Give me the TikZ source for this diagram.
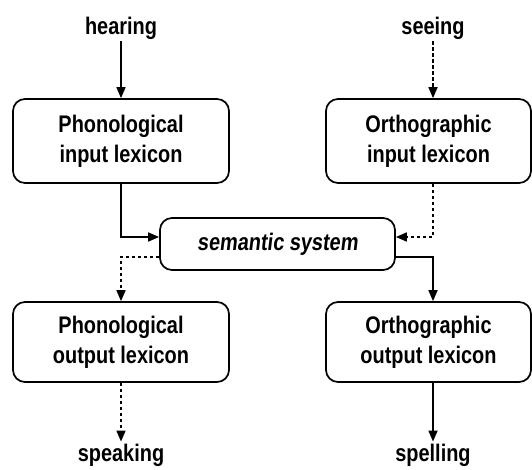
\documentclass[tikz,border=0pt]{standalone}
\usepackage{fontspec}
\setmainfont{Liberation Sans}[FakeStretch=0.83]
\newfontfamily\slantsans{Liberation Sans}[FakeStretch=0.83,
  UprightFont=*-Bold,FakeSlant=0.12]
\usetikzlibrary{arrows.meta,calc}
\begin{document}
\begin{tikzpicture}[x=1pt,y=-1pt,
  font=\fontsize{24}{30}\selectfont\bfseries,
  box/.style={draw,line width=1.7pt,rounded corners=12pt,align=center,inner sep=0pt},
  label/.style={inner sep=2pt},
  arr/.style={line width=1.7pt,-{Triangle[length=11pt,width=9pt]}},
  darr/.style={arr,dash pattern=on 3.5pt off 2.5pt}]
\useasboundingbox (0,0) rectangle (532,470);
% stimulus and response labels
\node[label] (hearing)  at (121,28)  {hearing};
\node[label] (seeing)   at (433,28)  {seeing};
\node[label] (speaking) at (121,455) {speaking};
\node[label] (spelling) at (433,455) {spelling};
% lexicons
\node[box,minimum width=216pt,minimum height=84pt] (pil) at (121,141)   {Phonological\\input lexicon};
\node[box,minimum width=205pt,minimum height=84pt] (oil) at (428.5,141) {Orthographic\\input lexicon};
\node[box,minimum width=216pt,minimum height=80pt] (pol) at (121,342)   {Phonological\\output lexicon};
\node[box,minimum width=205pt,minimum height=80pt] (ool) at (428.5,342) {Orthographic\\output lexicon};
\node[box,minimum width=235pt,minimum height=52pt,font=\fontsize{24}{30}\slantsans] (sem) at (277.5,244) {semantic system};
% routes
\draw[arr]  (hearing.south) -- (pil.north);
\draw[darr] (seeing.south) -- (seeing.south |- oil.north);
\draw[arr]  (pil.south) |- ([yshift=7pt]sem.west);
\draw[darr] (oil.south -| seeing) |- ([yshift=7pt]sem.east);
\draw[darr] ([yshift=-13pt]sem.west) -| (pol.north);
\draw[arr]  ([yshift=-13pt]sem.east) -| (ool.north -| seeing);
\draw[darr] (pol.south) -- (speaking.north);
\draw[arr]  (ool.south -| spelling) -- (spelling.north);
\end{tikzpicture}
\end{document}
